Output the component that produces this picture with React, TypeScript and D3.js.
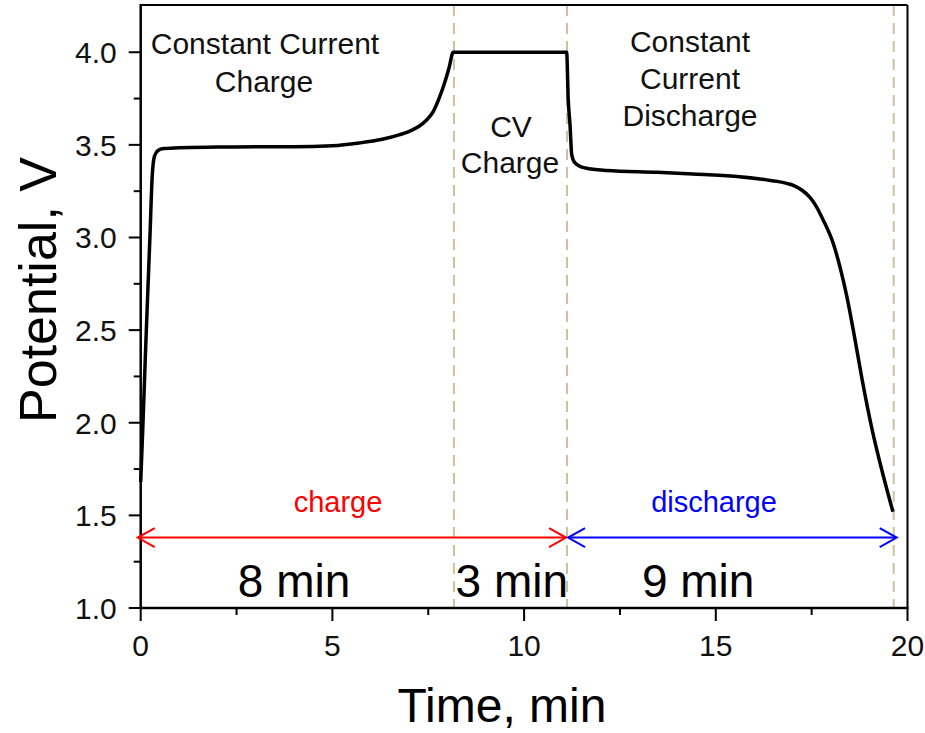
import React from "react";
import * as d3 from "d3";

// Charge / discharge potential profile
const timeMin = [
  0.0, 0.06, 0.12, 0.18, 0.24, 0.3, 0.36, 0.45, 0.6, 1.0, 2.0, 3.0, 4.0, 5.0,
  5.7, 6.3, 6.76, 7.05, 7.28, 7.45, 7.63, 7.8, 7.95, 8.05, 8.15, 11.11, 11.15,
  11.2, 11.24, 11.3, 11.45, 11.6, 12.16, 13.47, 14.4, 15.55, 16.33, 16.6, 16.85,
  17.05, 17.25, 17.45, 17.6, 17.8, 18.06, 18.24, 18.42, 18.63, 18.81, 19.07,
  19.33, 19.62,
];
const potentialV = [
  1.68, 2.0, 2.35, 2.68, 3.0, 3.33, 3.44, 3.47, 3.48, 3.485, 3.488, 3.49, 3.49,
  3.495, 3.51, 3.53, 3.555, 3.577, 3.603, 3.633, 3.68, 3.76, 3.85, 3.922, 4.0,
  4.0, 3.75, 3.6, 3.45, 3.41, 3.385, 3.375, 3.362, 3.352, 3.343, 3.329, 3.311,
  3.303, 3.292, 3.279, 3.255, 3.218, 3.175, 3.095, 2.97, 2.84, 2.68, 2.45,
  2.24, 1.97, 1.745, 1.52,
];

// Step boundaries (min)
const stepBoundaries = [8.17, 11.12, 19.64];

const xMajorTicks = [0, 5, 10, 15, 20];
const xMinorTicks = [2.5, 7.5, 12.5, 17.5];
const yMajorTicks = [1.0, 1.5, 2.0, 2.5, 3.0, 3.5, 4.0];
const yMinorTicks = [1.25, 1.75, 2.25, 2.75, 3.25, 3.75];

// Span arrows: [start, end] in minutes
const chargeSpan = [0, 11.12];
const dischargeSpan = [11.12, 19.64];
const spanArrowLevel = 1.38;

const durationLabels = [
  { t: 4.0, text: "8 min" },
  { t: 9.68, text: "3 min" },
  { t: 14.54, text: "9 min" },
];

const FONT = "Arial, 'Liberation Sans', sans-serif";

export default function App() {
  const x = d3.scaleLinear().domain([0, 20]).range([140.7, 907.5]);
  const y = d3.scaleLinear().domain([1, 4.255]).range([608, 5]);

  const line = d3
    .line<number>()
    .x((_, i) => x(timeMin[i]))
    .y((v) => y(v))
    .curve(d3.curveMonotoneX);

  const x0 = x.range()[0];
  const x1 = x.range()[1];
  const yTop = y.range()[1];
  const yBot = y.range()[0];

  const arrowHead = (tipX: number, tipY: number, dir: number) =>
    `M${tipX + dir * 17},${tipY - 9.5} L${tipX},${tipY} L${tipX + dir * 17},${tipY + 9.5}`;

  const ay = y(spanArrowLevel);

  return (
    <svg
      width={925}
      height={733}
      style={{ position: "absolute", left: 0, top: 0, display: "block" }}
      fontFamily={FONT}
    >
      {/* step boundaries */}
      {stepBoundaries.map((t) => (
        <line
          key={t}
          x1={x(t)}
          x2={x(t)}
          y1={yTop}
          y2={yBot}
          stroke="#cbc29d"
          strokeWidth={2}
          strokeDasharray="11 7"
        />
      ))}

      {/* frame */}
      <line x1={x0} x2={x1} y1={yTop} y2={yTop} stroke="#000" strokeWidth={2} />
      <line x1={x1} x2={x1} y1={yTop} y2={yBot} stroke="#000" strokeWidth={2} />
      <line x1={x0} x2={x0} y1={yTop - 1} y2={yBot + 1} stroke="#000" strokeWidth={2.5} />
      <line x1={x0 - 1} x2={x1 + 1} y1={yBot} y2={yBot} stroke="#000" strokeWidth={2.5} />

      {/* y ticks */}
      {yMajorTicks.map((v) => (
        <g key={v}>
          <line x1={x0 - 12} x2={x0} y1={y(v)} y2={y(v)} stroke="#000" strokeWidth={2} />
          <text
            x={x0 - 24}
            y={y(v)}
            dy="0.36em"
            textAnchor="end"
            fontSize={30}
            fill="#111"
          >
            {v.toFixed(1)}
          </text>
        </g>
      ))}
      {yMinorTicks.map((v) => (
        <line key={v} x1={x0 - 7} x2={x0} y1={y(v)} y2={y(v)} stroke="#000" strokeWidth={2} />
      ))}

      {/* x ticks */}
      {xMajorTicks.map((t) => (
        <g key={t}>
          <line x1={x(t)} x2={x(t)} y1={yBot} y2={yBot + 13} stroke="#000" strokeWidth={2} />
          <text x={x(t)} y={656} textAnchor="middle" fontSize={30} fill="#111">
            {t}
          </text>
        </g>
      ))}
      {xMinorTicks.map((t) => (
        <line key={t} x1={x(t)} x2={x(t)} y1={yBot} y2={yBot + 7} stroke="#000" strokeWidth={2} />
      ))}

      {/* axis titles */}
      <text x={502} y={722} textAnchor="middle" fontSize={48} fill="#000">
        Time, min
      </text>
      <text
        transform="translate(56,290) rotate(-90)"
        textAnchor="middle"
        fontSize={52}
        fill="#000"
      >
        Potential, V
      </text>

      {/* potential curve */}
      <path
        d={line(potentialV) ?? ""}
        fill="none"
        stroke="#000"
        strokeWidth={3.5}
        strokeLinejoin="round"
      />

      {/* step annotations */}
      <g fontSize={30} fill="#111" textAnchor="middle">
        <text x={265} y={54}>Constant Current</text>
        <text x={264} y={92}>Charge</text>
        <text x={511} y={137}>CV</text>
        <text x={510} y={173}>Charge</text>
        <text x={690} y={52}>Constant</text>
        <text x={690} y={89}>Current</text>
        <text x={690} y={126}>Discharge</text>
      </g>

      {/* charge span arrow */}
      <line x1={x(chargeSpan[0]) - 3} x2={x(chargeSpan[1]) - 1} y1={ay} y2={ay} stroke="#ff0000" strokeWidth={2} />
      <path d={arrowHead(x(chargeSpan[0]) - 3, ay, 1)} fill="none" stroke="#ff0000" strokeWidth={2} />
      <path d={arrowHead(x(chargeSpan[1]) - 1, ay, -1)} fill="none" stroke="#ff0000" strokeWidth={2} />
      <text x={338} y={512} textAnchor="middle" fontSize={29} fill="#ff0000">
        charge
      </text>

      {/* discharge span arrow */}
      <line x1={x(dischargeSpan[0]) + 1} x2={x(dischargeSpan[1]) + 3} y1={ay} y2={ay} stroke="#0000ff" strokeWidth={2} />
      <path d={arrowHead(x(dischargeSpan[0]) + 1, ay, 1)} fill="none" stroke="#0000ff" strokeWidth={2} />
      <path d={arrowHead(x(dischargeSpan[1]) + 3, ay, -1)} fill="none" stroke="#0000ff" strokeWidth={2} />
      <text x={714} y={512} textAnchor="middle" fontSize={29} fill="#0000ff">
        discharge
      </text>

      {/* step durations */}
      {durationLabels.map((d) => (
        <text key={d.text} x={x(d.t)} y={597} textAnchor="middle" fontSize={46} fill="#000">
          {d.text}
        </text>
      ))}
    </svg>
  );
}
